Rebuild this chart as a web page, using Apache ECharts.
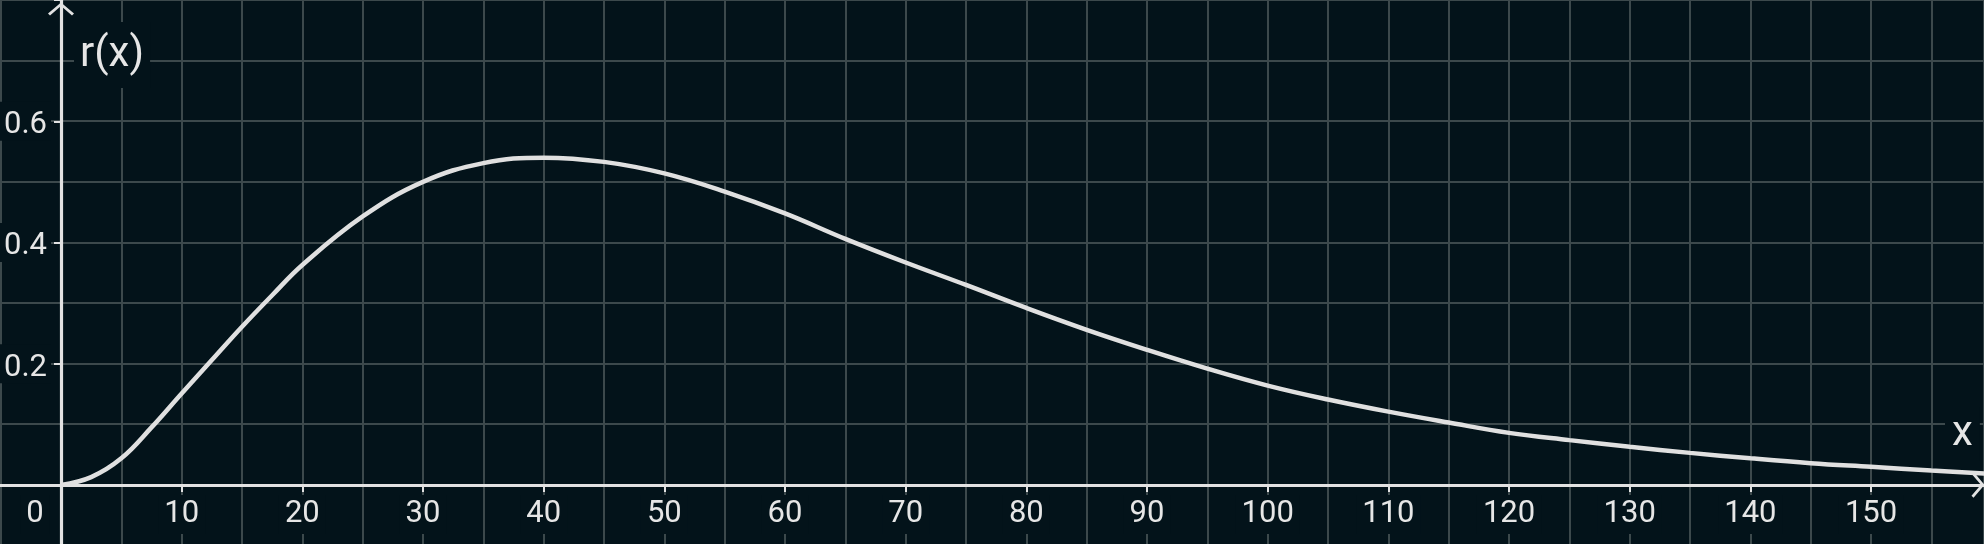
<!DOCTYPE html>
<html>
<head>
<meta charset="utf-8">
<script src="https://cdn.jsdelivr.net/npm/echarts@6/dist/echarts.min.js"></script>
<style>
html,body{margin:0;padding:0;background:#03131a;}
#chart{width:1984px;height:544px;}
</style>
</head>
<body>
<div id="chart"></div>
<script>
// Values
const xValues = [0, 2.5, 5, 7.5, 10, 12.5, 15, 17.5, 20, 25, 30, 35, 40, 45, 50, 55, 60, 65, 70, 75, 80, 85, 90, 95, 100, 105, 110, 115, 120, 125, 130, 135, 140, 145, 150, 155, 159.4];
const rValues = [0, 0.013, 0.044, 0.095, 0.151, 0.206, 0.261, 0.313, 0.363, 0.443, 0.500, 0.531, 0.540, 0.533, 0.514, 0.484, 0.448, 0.406, 0.367, 0.330, 0.292, 0.256, 0.223, 0.192, 0.164, 0.141, 0.121, 0.103, 0.086, 0.074, 0.063, 0.053, 0.044, 0.036, 0.030, 0.024, 0.019];
const xTickLabels = ['0','10','20','30','40','50','60','70','80','90','100','110','120','130','140','150'];
const yTickLabels = ['0.2','0.4','0.6'];
const yAxisName = 'r(x)';
const xAxisName = 'x';

const bg = '#03131a';
const gridColor = '#3c494c';
const axisColor = '#e2e2e2';
const textColor = '#e6e6e6';
const arrow = 'path://M0,11 L13,0 L26,11 L24,13 L13,3.6 L2,13 Z';
const font = 'Roboto';

const chart = echarts.init(document.getElementById('chart'), null, {renderer: 'canvas'});
const data = xValues.map((x, i) => [x, rValues[i]]);

chart.setOption({
  backgroundColor: bg,
  animation: false,
  title: [
    {text: yAxisName, left: 74, top: 22, padding: [12, 6, 12, 6], backgroundColor: bg,
     textStyle: {color: textColor, fontSize: 42, fontWeight: 'normal', fontFamily: font}},
    {text: xAxisName, left: 1945, top: 407, padding: [6, 7, 6, 7], backgroundColor: bg,
     textStyle: {color: textColor, fontSize: 42, fontWeight: 'normal', fontFamily: font}}
  ],
  grid: [
    {left: -59.67, top: 0, width: 2043.67, height: 606, containLabel: false, outerBoundsMode: 'none'},
    {left: 61, top: 0, width: 1923, height: 485, containLabel: false, outerBoundsMode: 'none'}
  ],
  xAxis: [{
    gridIndex: 0, type: 'value', min: -10, max: 159.36, interval: 5,
    axisLine: {show: true, onZero: true, lineStyle: {color: axisColor, width: 3.2},
      symbol: ['none', arrow], symbolSize: [26, 13], symbolOffset: [0, -6]},
    axisTick: {show: false},
    axisLabel: {show: false},
    splitLine: {show: true, lineStyle: {color: gridColor, width: 2}}
  }, {
    gridIndex: 1, type: 'value', min: 0, max: 159.36, interval: 10,
    axisLine: {show: false},
    axisTick: {show: true, inside: false, length: 7, lineStyle: {color: axisColor, width: 2}},
    axisLabel: {
      show: true, margin: 10, color: textColor, fontSize: 31, fontFamily: font,
      showMinLabel: true, showMaxLabel: false,
      formatter: function (v) {
        const s = String(Math.round(v));
        if (xTickLabels.indexOf(s) < 0) return '';
        if (s === '0') return '{z|0}{s| }';
        return '{a|' + s + '}';
      },
      rich: {
        a: {backgroundColor: bg, padding: [4, 6, 4, 6], color: textColor, fontSize: 31, fontFamily: font},
        z: {backgroundColor: bg, padding: [4, 6, 4, 6], color: textColor, fontSize: 31, fontFamily: font},
        s: {width: 52, fontSize: 31}
      }
    },
    splitLine: {show: false}
  }],
  yAxis: [{
    gridIndex: 0, type: 'value', min: -0.2, max: 0.8, interval: 0.1,
    axisLine: {show: true, onZero: true, lineStyle: {color: axisColor, width: 3.2},
      symbol: ['none', arrow], symbolSize: [26, 13], symbolOffset: [0, -9]},
    axisTick: {show: false},
    axisLabel: {show: false},
    splitLine: {show: true, lineStyle: {color: gridColor, width: 2}}
  }, {
    gridIndex: 1, type: 'value', min: 0, max: 0.8, interval: 0.2,
    axisLine: {show: false},
    axisTick: {show: true, inside: false, length: 7, lineStyle: {color: axisColor, width: 2}},
    axisLabel: {
      show: true, margin: 10, color: textColor, fontSize: 31, fontFamily: font,
      formatter: function (v) {
        const s = v.toFixed(1);
        if (yTickLabels.indexOf(s) < 0) return '';
        return '{a|' + s + '}';
      },
      rich: {
        a: {backgroundColor: bg, padding: [8, 4, 0, 4], color: textColor, fontSize: 31, fontFamily: font}
      }
    },
    splitLine: {show: false}
  }],
  series: [{
    type: 'line', xAxisIndex: 1, yAxisIndex: 1, data: data, showSymbol: false,
    smooth: 0.4, clip: true, z: 5,
    lineStyle: {color: '#e0e0e0', width: 4.5}
  }]
});
</script>
</body>
</html>
